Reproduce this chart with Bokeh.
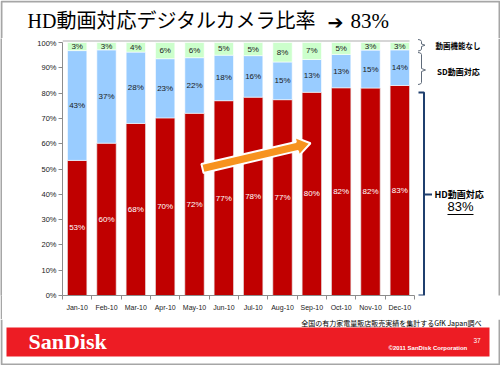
import math
from bokeh.plotting import figure
from bokeh.layouts import column, row
from bokeh.models import (ColumnDataSource, FixedTicker, PrintfTickFormatter, Range1d)
from bokeh.core.properties import value
from bokeh.embed import file_html
from bokeh.resources import INLINE

# ---------------- data ----------------
months = ["Jan-10", "Feb-10", "Mar-10", "Apr-10", "May-10", "Jun-10",
          "Jul-10", "Aug-10", "Sep-10", "Oct-10", "Nov-10", "Dec-10"]
hd_share = [53.4, 60.2, 68.0, 70.2, 72.0, 77.0, 78.4, 77.4, 80.3, 82.1, 82.0, 83.0]
sd_share = [43.4, 36.9, 28.2, 23.4, 22.0, 18.0, 16.4, 14.9, 13.0, 13.2, 15.0, 14.1]
no_video_share = [3.2, 2.9, 3.8, 6.4, 6.0, 5.0, 5.2, 7.7, 6.7, 4.7, 3.0, 2.9]
y_ticks = [0, 10, 20, 30, 40, 50, 60, 70, 80, 90, 100]

title_main = "HD動画対応デジタルカメラ比率"
title_arrow = "➔"
title_value = "83%"
legend_none = "動画機能なし"
legend_sd = "SD動画対応"
legend_hd = "HD動画対応"
latest_hd = "83%"
source_text = "全国の有力家電量販店販売実績を集計するGfK Japan調べ"
brand = "SanDisk"
copyright_text = "©2011 SanDisk Corporation"
page_no = "37"

# ---------------- layout (slide pixels) ----------------
W, H = 500, 365
TITLE_H = 38          # title strip: y 0..38
MAIN_BOTTOM = 319     # main chart strip: y 38..319, bottom strip 319..365
EDGE = 2              # slide border width
AX_LEFT, AX_X_END = 62, 414   # plot x extent for 12 categories
AX_TOP, AX_BOTTOM = 42, 295   # 100% .. 0%
N = len(months)
CAT_PX = (AX_X_END - AX_LEFT) / N
PCT_PX = (AX_BOTTOM - AX_TOP) / 100.0


def X(rx):
    return (rx - AX_LEFT) / CAT_PX - 0.5


def Y(ry):
    return (AX_BOTTOM - ry) / PCT_PX


RED, BLUE, GREEN = "#C00000", "#99CCFF", "#CCFFCC"
SANS = "Liberation Sans"
JP = "Noto Sans CJK JP"
BORDER = "#A6A6A6"


def blank_fig(w, h, y0, y1, x0=0, bg="white"):
    f = figure(width=w, height=h, x_range=Range1d(x0, x0 + w), y_range=Range1d(y1, y0),
               output_backend="svg", toolbar_location=None, title=None,
               x_axis_location=None, y_axis_location=None,
               min_border=0, min_border_left=0, min_border_right=0,
               min_border_top=0, min_border_bottom=0)
    f.grid.visible = False
    f.outline_line_color = None
    f.background_fill_color = bg
    f.border_fill_color = bg
    return f


def label(fig, conv_x, conv_y, rx, ry, text, size, font, color="black",
          align="left", style="normal"):
    fig.text(x=[conv_x(rx)], y=[conv_y(ry)], text=[text], text_align=align,
             text_baseline="middle", text_font=value(font), text_font_size=size,
             text_color=color, text_font_style=style)


ident = lambda v: v

# ---------------- title strip ----------------
pt = blank_fig(W, TITLE_H, 0, TITLE_H)
label(pt, ident, ident, 27, 20.5, title_main, "20px", "Liberation Serif, Noto Sans CJK JP")
label(pt, ident, ident, 327, 21, title_arrow, "19px", "DejaVu Sans")
label(pt, ident, ident, 350, 20.5, title_value, "21px", "Liberation Serif")
pt.line([1, 1, 499, 499], [TITLE_H, 1, 1, TITLE_H], line_color=BORDER, line_width=2)

# ---------------- main chart ----------------
MAIN_H = MAIN_BOTTOM - TITLE_H
p = figure(width=W - EDGE, height=MAIN_H,
           x_range=Range1d(-0.5, X(W)), y_range=Range1d(0, Y(TITLE_H)),
           output_backend="svg", toolbar_location=None, title=None,
           min_border_left=AX_LEFT - EDGE, min_border_right=0, min_border_top=0,
           min_border_bottom=MAIN_BOTTOM - AX_BOTTOM)
p.xgrid.visible = False
p.ygrid.visible = False
p.outline_line_color = None
p.background_fill_color = "white"
p.border_fill_color = "white"

xs = list(range(N))
sd_top = [a + b for a, b in zip(hd_share, sd_share)]
none_top = [a + b for a, b in zip(sd_top, no_video_share)]

src = ColumnDataSource(dict(
    x=xs,
    hd_top=hd_share, sd_bottom=hd_share, sd_top=sd_top, none_top=none_top,
    hd_mid=[v / 2 for v in hd_share],
    sd_mid=[(a + b) / 2 for a, b in zip(hd_share, sd_top)],
    none_mid=[(a + b) / 2 for a, b in zip(sd_top, none_top)],
    hd_lbl=[f"{round(v)}%" for v in hd_share],
    sd_lbl=[f"{round(v)}%" for v in sd_share],
    none_lbl=[f"{round(v)}%" for v in no_video_share],
))

BW = 0.66
p.vbar(x="x", width=BW, bottom=0, top="hd_top", source=src,
       fill_color=RED, line_color="#E8E8E8", line_width=0.6)
p.vbar(x="x", width=BW, bottom="sd_bottom", top="sd_top", source=src,
       fill_color=BLUE, line_color="white", line_width=0.6)
p.vbar(x="x", width=BW, bottom="sd_top", top="none_top", source=src,
       fill_color=GREEN, line_color="white", line_width=0.6)

for ycol, tcol, col in (("hd_mid", "hd_lbl", "white"), ("sd_mid", "sd_lbl", "#1A1A1A"),
                        ("none_mid", "none_lbl", "#1A1A1A")):
    p.text(x="x", y=ycol, text=tcol, source=src, text_align="center",
           text_baseline="middle", text_font=value(SANS), text_font_size="8px",
           text_color=col)

# light top rule of the plot area
p.segment(x0=[X(AX_LEFT)], y0=[Y(40.5)], x1=[X(409)], y1=[Y(40.5)],
          line_color="#C8C8C8", line_width=1.5)

# axes
AX = "#8C8C8C"
p.xaxis.bounds = (-0.5, N - 0.5)
p.xaxis.ticker = FixedTicker(ticks=xs, minor_ticks=[i - 0.5 for i in range(N + 1)])
p.xaxis.major_label_overrides = {i: m for i, m in enumerate(months)}
p.xaxis.axis_line_color = AX
p.xaxis.major_tick_out = 0
p.xaxis.major_tick_in = 0
p.xaxis.minor_tick_out = 4
p.xaxis.minor_tick_in = 0
p.xaxis.minor_tick_line_color = AX
p.xaxis.major_label_standoff = 4
p.xaxis.major_label_text_font = SANS
p.xaxis.major_label_text_font_size = "7px"
p.xaxis.major_label_text_color = "#1A1A1A"

p.yaxis.bounds = (0, 100)
p.yaxis.ticker = FixedTicker(ticks=y_ticks, minor_ticks=[])
p.yaxis.formatter = PrintfTickFormatter(format="%d%%")
p.yaxis.axis_line_color = AX
p.yaxis.major_tick_line_color = AX
p.yaxis.major_tick_out = 4
p.yaxis.major_tick_in = 0
p.yaxis.minor_tick_out = 0
p.yaxis.minor_tick_in = 0
p.yaxis.major_label_standoff = 2
p.yaxis.major_label_text_font = SANS
p.yaxis.major_label_text_font_size = "7.5px"
p.yaxis.major_label_text_color = "#1A1A1A"

# orange trend arrow (slide pixel geometry)
tail = (202.0, 168.0)
tip = (310.0, 142.7)
dxp, dyp = tip[0] - tail[0], tip[1] - tail[1]
ln = math.hypot(dxp, dyp)
ux, uy = dxp / ln, dyp / ln
nx, ny = -uy, ux
w, hw, hl = 4.6, 9.5, 14.0
bx, by = tip[0] - ux * hl, tip[1] - uy * hl
pts = [(tail[0] + nx * w, tail[1] + ny * w), (bx + nx * w, by + ny * w),
       (bx + nx * hw, by + ny * hw), tip, (bx - nx * hw, by - ny * hw),
       (bx - nx * w, by - ny * w), (tail[0] - nx * w, tail[1] - ny * w)]
p.patch([X(a) for a, b in pts], [Y(b) for a, b in pts],
        fill_color="#F7931E", line_color="white", line_width=2)


def polyline(points, color, width):
    p.line([X(a) for a, b in points], [Y(b) for a, b in points],
           line_color=color, line_width=width)


BRACE = "#5F6B7A"
polyline([(417.5, 39), (420, 39.5), (421, 41), (421, 43.5), (424.5, 44.7), (421, 46),
          (421, 48.5), (420, 50), (417.5, 50.5)], BRACE, 1)
polyline([(417.5, 52), (420, 52.5), (421, 54), (421, 68), (425, 69.5), (421, 71),
          (421, 82), (420, 83.5), (417.5, 84)], BRACE, 1)
NAVY = "#1F3F6E"
polyline([(418, 92), (423.5, 92), (423.5, 295), (418, 295)], NAVY, 2)
polyline([(423.5, 194), (431.5, 194)], NAVY, 2)
polyline([(447, 214), (473, 214)], "black", 1)
# right edge of slide border
polyline([(499, TITLE_H), (499, MAIN_BOTTOM)], BORDER, 2)

label(p, X, Y, 435, 45, legend_none, "7.5px", JP, style="bold")
label(p, X, Y, 436.5, 71, legend_sd, "8px", JP, style="bold")
label(p, X, Y, 434, 194, legend_hd, "9px", JP, style="bold")
label(p, X, Y, 447, 206, latest_hd, "13px", SANS)

# left slide border next to the chart
edge = blank_fig(EDGE, MAIN_H, TITLE_H, MAIN_BOTTOM, bg=BORDER)

# ---------------- bottom strip ----------------
BOT_H = H - MAIN_BOTTOM
pb = blank_fig(W, BOT_H, MAIN_BOTTOM, H)
pb.quad(left=[6], right=[489], top=[327], bottom=[356], fill_color="#ED1C24",
        line_color=None)
label(pb, ident, ident, 481, 322, source_text, "7px", JP, align="right")
label(pb, ident, ident, 28, 341, brand, "22px", "Liberation Serif", color="white",
      style="bold")
label(pb, ident, ident, 388, 347, copyright_text, "6px", SANS, color="white", style="bold")
label(pb, ident, ident, 473, 340, page_no, "6.5px", SANS, color="white")
pb.line([1, 1, 499, 499], [MAIN_BOTTOM, 364, 364, MAIN_BOTTOM], line_color=BORDER,
        line_width=2)

layout = column(pt, row(edge, p, spacing=0), pb, spacing=0)

open("out.html", "w").write(file_html(layout, INLINE))
